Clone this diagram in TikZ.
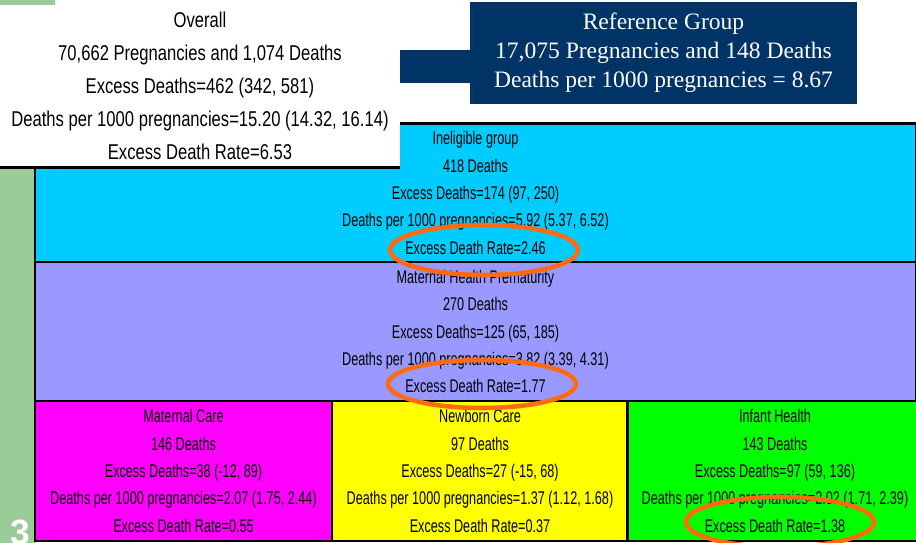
\documentclass[tikz,border=0pt]{standalone}
\usepackage{fontspec}
\usepackage{tikz}
\newfontfamily\narrowsf{Liberation Sans}[FakeStretch=0.69]
\newfontfamily\overallsf{Liberation Sans}[FakeStretch=0.775]
\newfontfamily\plainsf{Liberation Sans}
\newfontfamily\refserif{Liberation Serif}
\definecolor{sage}{HTML}{99CC99}
\definecolor{skyfill}{HTML}{00CCFF}
\definecolor{lilacfill}{HTML}{9999FF}
\definecolor{magentafill}{HTML}{FF00FF}
\definecolor{yellowfill}{HTML}{FFFF00}
\definecolor{limefill}{HTML}{00FF00}
\definecolor{navyfill}{HTML}{003366}
\definecolor{ringorange}{HTML}{FF6A13}

\begin{document}
\begin{tikzpicture}[x=0.02cm,y=-0.02cm,
    box/.style={draw=black,line width=1.2pt,inner sep=0pt,align=center,
        font=\narrowsf\fontsize{10.45}{15.6}\selectfont},
    ring/.style={draw=ringorange,line width=2.6pt}]
\useasboundingbox (0,0) rectangle (916,543);
\fill[sage] (0,0) rectangle (55,5) (0,0) rectangle (35,543);
\node[anchor=base west,text=white,font=\plainsf\bfseries\fontsize{20}{20}\selectfont] (slideno) at (4,544) {3};
\node[box,fill=skyfill,minimum width=17.62cm,minimum height=2.78cm] (inelig) at (475.5,193)
    {Ineligible group\\418 Deaths\\Excess Deaths=174 (97, 250)\\
     Deaths per 1000 pregnancies=5.92 (5.37, 6.52)\\Excess Death Rate=2.46};
\node[box,fill=lilacfill,minimum width=17.62cm,minimum height=2.78cm] (mhp) at (475.5,331.5)
    {Maternal Health Prematurity\\270 Deaths\\Excess Deaths=125 (65, 185)\\
     Deaths per 1000 pregnancies=3.82 (3.39, 4.31)\\Excess Death Rate=1.77};
\node[box,fill=magentafill,minimum width=5.94cm,minimum height=2.8cm] (matcare) at (183.5,471)
    {Maternal Care\\146 Deaths\\Excess Deaths=38 (-12, 89)\\
     Deaths per 1000 pregnancies=2.07 (1.75, 2.44)\\Excess Death Rate=0.55};
\node[box,fill=yellowfill,minimum width=5.92cm,minimum height=2.8cm] (newborn) at (480,471)
    {Newborn Care\\97 Deaths\\Excess Deaths=27 (-15, 68)\\
     Deaths per 1000 pregnancies=1.37 (1.12, 1.68)\\Excess Death Rate=0.37};
\node[box,fill=limefill,minimum width=5.9cm,minimum height=2.8cm] (infant) at (775,471)
    {Infant Health\\143 Deaths\\Excess Deaths=97 (59, 136)\\
     Deaths per 1000 pregnancies=2.02 (1.71, 2.39)\\Excess Death Rate=1.38};
\fill[navyfill] (380,50) rectangle (472,83);
\node[fill=navyfill,text=white,align=center,inner sep=0pt,minimum width=7.74cm,minimum height=2.04cm,
    font=\refserif\fontsize{13.4}{16.4}\selectfont] (refgrp) at (663.5,53)
    {Reference Group\\17,075 Pregnancies and 148 Deaths\\Deaths per 1000 pregnancies = 8.67};
\node[fill=white,align=center,inner sep=0pt,minimum width=8cm,minimum height=3.24cm,
    font=\overallsf\fontsize{12.2}{18.7}\selectfont] (overall) at (200,86)
    {Overall\\70,662 Pregnancies and 1,074 Deaths\\Excess Deaths=462 (342, 581)\\
     Deaths per 1000 pregnancies=15.20 (14.32, 16.14)\\Excess Death Rate=6.53};
\draw[line width=1.7pt] (overall.south west) -- (overall.south east);
\draw[ring] (484,250) ellipse [x radius=1.88cm,y radius=0.5cm];
\draw[ring] (482,384) ellipse [x radius=1.88cm,y radius=0.48cm];
\draw[ring] (780,522) ellipse [x radius=1.88cm,y radius=0.5cm];
\end{tikzpicture}
\end{document}
